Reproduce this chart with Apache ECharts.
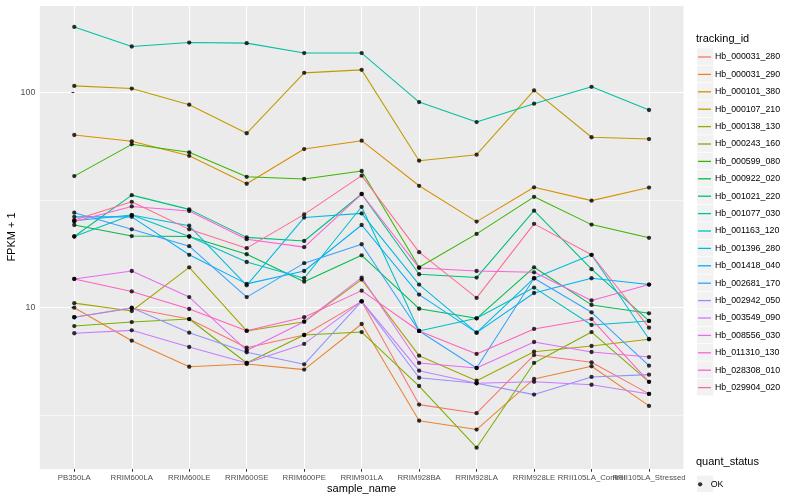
<!DOCTYPE html>
<html><head><meta charset="utf-8">
<script src="https://cdn.jsdelivr.net/npm/echarts@6/dist/echarts.min.js"></script>
<style>html,body{margin:0;padding:0;background:#fff}#c{width:800px;height:500px}</style>
</head><body><div id="c"></div>
<script>
const categories = ['PB350LA','RRIM600LA','RRIM600LE','RRIM600SE','RRIM600PE','RRIM901LA','RRIM928BA','RRIM928LA','RRIM928LE','RRII105LA_Control','RRII105LA_Stressed'];
const trackingIds = ['Hb_000031_280','Hb_000031_290','Hb_000101_380','Hb_000107_210','Hb_000138_130','Hb_000243_160','Hb_000599_080','Hb_000922_020','Hb_001021_220','Hb_001077_030','Hb_001163_120','Hb_001396_280','Hb_001418_040','Hb_002681_170','Hb_002942_050','Hb_003549_090','Hb_008556_030','Hb_011310_130','Hb_028308_010','Hb_029904_020'];
const colors = ['#F8766D','#EA8331','#D89000','#C09B00','#A3A500','#7CAE00','#39B600','#00BB4E','#00BF7D','#00C1A3','#00BFC4','#00BAE0','#00B0F6','#35A2FF','#9590FF','#C77CFF','#E76BF3','#FA62DB','#FF62BC','#FF6C91'];

const Hb_000031_280 = [9.03, 9.94, 8.86, 6.52, 7.47, 10.7, 3.55, 3.24, 6.03, 5.58, 3.98];
const Hb_000031_290 = [10.0, 7.03, 5.32, 5.48, 5.16, 8.40, 2.99, 2.72, 4.67, 5.35, 3.50];
const Hb_000101_380 = [63.3, 59.2, 50.7, 37.6, 54.5, 59.6, 36.8, 25.1, 36.2, 31.4, 36.1];
const Hb_000107_210 = [107, 104, 87.5, 64.5, 123, 127, 48.1, 51.3, 102, 61.8, 60.6];
const Hb_000138_130 = [10.5, 9.65, 15.4, 7.80, 8.61, 13.5, 5.99, 4.58, 6.25, 6.64, 7.13];
const Hb_000243_160 = [8.22, 8.58, 8.86, 5.54, 7.47, 7.71, 4.33, 2.24, 5.54, 7.71, 4.53];
const Hb_000599_080 = [40.8, 57.3, 52.6, 40.5, 39.6, 43.1, 15.4, 22.0, 32.7, 24.3, 21.1];
const Hb_000922_020 = [24.2, 21.5, 21.4, 17.7, 13.2, 17.5, 9.89, 8.93, 15.4, 10.3, 9.42];
const Hb_001021_220 = [21.4, 33.3, 28.6, 21.2, 20.4, 33.7, 14.3, 13.8, 28.2, 15.1, 8.68];
const Hb_001077_030 = [201, 163, 170, 169, 152, 152, 90.0, 72.7, 88.5, 106, 82.7];
const Hb_001163_120 = [21.4, 26.9, 21.4, 16.3, 13.7, 29.4, 7.80, 8.93, 12.4, 8.31, 8.68];
const Hb_001396_280 = [25.3, 26.9, 24.0, 12.7, 26.2, 27.4, 12.8, 7.66, 13.7, 17.6, 7.16];
const Hb_001418_040 = [26.4, 26.4, 17.6, 12.9, 14.8, 24.2, 11.5, 7.66, 11.7, 13.7, 12.8];
const Hb_002681_170 = [27.6, 23.1, 19.3, 11.2, 16.1, 19.7, 7.80, 5.25, 13.7, 9.52, 5.38];
const Hb_002942_050 = [9.03, 10.0, 7.66, 6.21, 5.46, 10.7, 4.73, 4.46, 3.95, 4.77, 4.89];
const Hb_003549_090 = [7.61, 7.85, 6.57, 5.54, 6.79, 10.7, 5.10, 4.46, 4.53, 4.39, 3.98];
const Hb_008556_030 = [13.6, 14.8, 11.2, 6.33, 8.61, 13.8, 5.54, 5.25, 6.93, 6.23, 5.90];
const Hb_011310_130 = [25.1, 29.5, 28.1, 20.8, 19.1, 33.7, 15.3, 14.8, 14.6, 10.8, 12.8];
const Hb_028308_010 = [13.6, 11.9, 9.86, 7.82, 9.03, 12.0, 7.80, 6.10, 7.97, 8.86, 4.53];
const Hb_029904_020 = [25.5, 31.0, 23.1, 18.9, 27.1, 41.0, 18.1, 11.1, 24.5, 17.6, 8.08];

const seriesValues = [Hb_000031_280, Hb_000031_290, Hb_000101_380, Hb_000107_210, Hb_000138_130, Hb_000243_160, Hb_000599_080, Hb_000922_020, Hb_001021_220, Hb_001077_030, Hb_001163_120, Hb_001396_280, Hb_001418_040, Hb_002681_170, Hb_002942_050, Hb_003549_090, Hb_008556_030, Hb_011310_130, Hb_028308_010, Hb_029904_020];
const quantStatus = ['OK'];
const yMinorBreaks = [3.1623, 31.623];
const yMin = 1.784, yMax = 254;

const FONT = '"Liberation Sans", Arial, Helvetica, sans-serif';
const xIdx = categories.map((_, i) => i);
// the label at this index overlaps its neighbours (as in the original), so it is placed separately from the axis scale
const overlapIdx = [9];
const xLabelIdx = xIdx.filter(i => overlapIdx.indexOf(i) < 0);
const LABEL_COLOR = '#4D4D4D', LABEL_SIZE = 7.8, LABEL_MARGIN = 4.5;

const lineSeries = trackingIds.map((id, i) => ({
  name: id, type: 'line', z: 3,
  data: seriesValues[i].map((v, j) => [j, v]),
  showSymbol: false, symbol: 'none',
  lineStyle: { width: 1.05, color: colors[i] },
  itemStyle: { color: colors[i] },
  emphasis: { disabled: true }, silent: true
}));
const pts = [];
seriesValues.forEach(arr => arr.forEach((v, j) => pts.push([j, v])));
const pointSeries = { name: 'OK', type: 'scatter', data: pts, symbol: 'circle', symbolSize: 4.3,
  itemStyle: { color: '#000' }, z: 4, silent: true, emphasis: { disabled: true } };
const minorGrid = { type: 'line', data: [], silent: true,
  markLine: { silent: true, symbol: 'none', z: 1, animation: false, label: { show: false },
    lineStyle: { color: '#fff', width: 0.55, type: 'solid' },
    data: yMinorBreaks.map(v => ({ yAxis: v })) } };

const keyRects = [];
trackingIds.forEach((_, i) => keyRects.push({ type: 'rect', z: 0,
  shape: { x: 697, y: 48.3 + i * 17.4, width: 16.4, height: 16.6 }, style: { fill: '#F2F2F2' } }));
keyRects.push({ type: 'rect', z: 0, shape: { x: 697, y: 475.6, width: 16.4, height: 16.6 }, style: { fill: '#F2F2F2' } });

const option = {
  animation: false,
  backgroundColor: '#fff',
  textStyle: { fontFamily: FONT },
  grid: { left: 39.8, right: 116.5, top: 5, bottom: 31, show: true, backgroundColor: '#EBEBEB', borderWidth: 0,
    containLabel: false, outerBoundsMode: 'none' },
  title: [
    { text: 'tracking_id', left: 696, top: 33, padding: 0, textStyle: { fontSize: 11, fontWeight: 'normal', color: '#000', fontFamily: FONT } },
    { text: 'quant_status', left: 696, top: 456, padding: 0, textStyle: { fontSize: 11, fontWeight: 'normal', color: '#000', fontFamily: FONT } }
  ],
  graphic: keyRects,
  legend: [
    { data: trackingIds, orient: 'vertical', left: 698, top: 48.3, padding: 0, itemGap: 0,
      itemWidth: 13, itemHeight: 1.3, icon: 'rect', selectedMode: false,
      textStyle: { fontSize: 8.8, color: '#000', fontFamily: FONT, lineHeight: 17.4, padding: [0, 0, 0, -1] } },
    { data: quantStatus, orient: 'vertical', left: 698, top: 475.6, padding: 0, itemGap: 0,
      itemWidth: 13, itemHeight: 4.3, icon: 'circle', selectedMode: false,
      textStyle: { fontSize: 8.8, color: '#000', fontFamily: FONT, lineHeight: 17.4, padding: [0, 0, 0, -1] } }
  ],
  xAxis: {
    type: 'value', min: -0.6, max: 10.6,
    axisLine: { show: false },
    axisTick: { show: true, length: 2.75, lineStyle: { color: '#333', width: 1 }, customValues: xIdx },
    axisLabel: { customValues: xLabelIdx, formatter: v => categories[Math.round(v)] || '', color: LABEL_COLOR, fontSize: LABEL_SIZE, fontFamily: FONT, margin: LABEL_MARGIN,
      hideOverlap: false, showMinLabel: true, showMaxLabel: true },
    splitLine: { show: true, lineStyle: { color: '#fff', width: 1.07 } },
    name: 'sample_name', nameLocation: 'middle', nameGap: 14, nameMoveOverlap: false,
    nameTextStyle: { fontSize: 11, color: '#000', fontFamily: FONT }
  },
  yAxis: {
    type: 'log', logBase: 10, min: yMin, max: yMax,
    axisLine: { show: false },
    axisTick: { show: true, length: 2.75, lineStyle: { color: '#333', width: 1 } },
    axisLabel: { showMinLabel: false, showMaxLabel: false, color: LABEL_COLOR, fontSize: 8.8, fontFamily: FONT, margin: 4.5 },
    splitLine: { show: true, lineStyle: { color: '#fff', width: 1.07 } },
    name: 'FPKM + 1', nameLocation: 'middle', nameGap: 22, nameMoveOverlap: false,
    nameTextStyle: { fontSize: 11, color: '#000', fontFamily: FONT }
  },
  series: [minorGrid].concat(lineSeries, [pointSeries])
};
const chart = echarts.init(document.getElementById('c'));
chart.setOption(option);

// overlapping category label, positioned through the axis scale
const yBottom = chart.convertToPixel({ yAxisIndex: 0 }, yMin);
const extraLabels = overlapIdx.map(i => ({
  type: 'text', z: 5,
  x: chart.convertToPixel({ xAxisIndex: 0 }, i), y: yBottom + LABEL_MARGIN,
  style: { text: categories[i], fill: LABEL_COLOR, fontSize: LABEL_SIZE, fontFamily: FONT, align: 'center', verticalAlign: 'top' }
}));
chart.setOption({ graphic: keyRects.concat(extraLabels) });
</script>
</body></html>
